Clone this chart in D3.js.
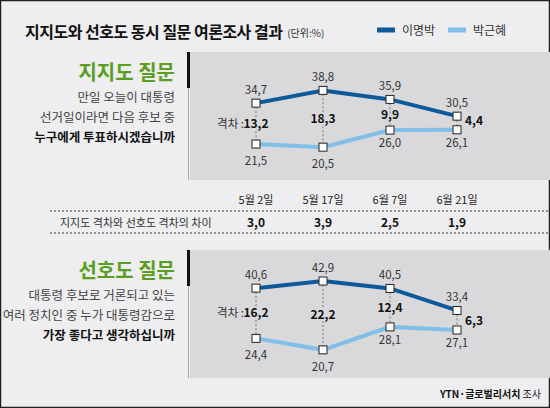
<!DOCTYPE html>
<html><head><meta charset="utf-8">
<script src="https://cdn.jsdelivr.net/npm/d3@7"></script>
<style>body{margin:0;background:#fff}text{font-family:"Noto Sans CJK KR","Noto Sans",sans-serif}</style>
</head><body><svg></svg>
<script>
let dates = ["5월 2일", "5월 17일", "6월 7일", "6월 21일"];
let supportLee = [34.7, 38.8, 35.9, 30.5];
let supportPark = [21.5, 20.5, 26.0, 26.1];
let supportGap = ["13.2", "18.3", "9.9", "4.4"];
let prefLee = [40.6, 42.9, 40.5, 33.4];
let prefPark = [24.4, 20.7, 28.1, 27.1];
let prefGap = ["16.2", "22.2", "12.4", "6.3"];
let gapDiff = ["3.0", "3.9", "2.5", "1.9"];
let fmt = v => v.toFixed(1).replace(".", ",");

let svg = d3.select("svg").attr("width", 550).attr("height", 408);
svg.append("rect").attr("x", 0.5).attr("y", 0.5).attr("width", 549).attr("height", 407)
    .attr("fill", "#eeeef0").attr("stroke", "#222").attr("stroke-width", 1.5);

let title = svg.append("text").attr("x", 25).attr("y", 38).attr("font-size", 16).attr("font-weight", "bold")
    .attr("fill", "#111").attr("letter-spacing", -0.5).text("지지도와 선호도 동시 질문 여론조사 결과");
let tw = title.node().getBBox().width;
svg.append("text").attr("x", 25 + tw + 4).attr("y", 37).attr("font-size", 10).attr("fill", "#333").text("(단위:%)");

// legend
[["이명박", "#0d5a9a", 377], ["박근혜", "#80c0e8", 448]].forEach(([n, c, x]) => {
    svg.append("line").attr("x1", x).attr("x2", x + 18).attr("y1", 30).attr("y2", 30)
        .attr("stroke", c).attr("stroke-width", 5);
    svg.append("text").attr("x", x + 25).attr("y", 35).attr("font-size", 12).attr("fill", "#333").text(n);
});

let xScale = d3.scalePoint().domain(dates).range([256, 457]);

function panel(top, title, lines, lee, park, gap, y0) {
    let g = svg.append("g");
    g.append("rect").attr("x", 190).attr("y", top).attr("width", 360).attr("height", 128).attr("fill", "#d9d9dc");
    g.append("rect").attr("x", 187).attr("y", top).attr("width", 3).attr("height", 36).attr("fill", "#111");
    g.append("rect").attr("x", 188).attr("y", top + 36).attr("width", 1).attr("height", 92).attr("fill", "#aaa");
    g.append("text").attr("x", 175).attr("y", top + 28).attr("text-anchor", "end").attr("font-size", 20)
        .attr("font-weight", "bold").attr("fill", "#5a9e1f").text(title);
    lines.forEach((l, i) => g.append("text").attr("x", 175).attr("y", top + 50 + i * 20)
        .attr("text-anchor", "end").attr("font-size", 12.5).attr("fill", i == 2 ? "#111" : "#444")
        .attr("font-weight", i == 2 ? "bold" : "normal").text(l));

    let y = d3.scaleLinear().domain([20, 45]).range([y0 - 20 * 3.1, y0 - 45 * 3.1]);
    dates.forEach((d, i) => g.append("line").attr("x1", xScale(d)).attr("x2", xScale(d))
        .attr("y1", y(lee[i])).attr("y2", y(park[i])).attr("stroke", "#777").attr("stroke-dasharray", "2,2"));
    let line = d3.line().x((v, i) => xScale(dates[i])).y(v => y(v));
    [[lee, "#0d5a9a"], [park, "#80c0e8"]].forEach(([vals, c]) => {
        g.append("path").attr("d", line(vals)).attr("fill", "none").attr("stroke", c).attr("stroke-width", 4);
        g.selectAll(null).data(vals).enter().append("rect")
            .attr("x", (v, i) => xScale(dates[i]) - 4).attr("y", v => y(v) - 4)
            .attr("width", 8).attr("height", 8).attr("fill", "#fff").attr("stroke", "#222").attr("stroke-width", 1);
    });
    lee.forEach((v, i) => g.append("text").attr("x", xScale(dates[i])).attr("y", y(v) - 9)
        .attr("text-anchor", "middle").attr("font-size", 11.5).attr("fill", "#333").text(fmt(v)));
    park.forEach((v, i) => g.append("text").attr("x", xScale(dates[i])).attr("y", y(v) + (i < 2 ? 21 : 17))
        .attr("text-anchor", "middle").attr("font-size", 11.5).attr("fill", "#333").text(fmt(v)));
    gap.forEach((v, i) => {
        let mid = (y(lee[i]) + y(park[i])) / 2 + 4;
        let last = i == 3;
        g.append("text").attr("x", xScale(dates[i]) + (last ? 17 : 0)).attr("y", last ? y(park[i]) - 5 : mid)
            .attr("text-anchor", "middle").attr("font-size", 12).attr("font-weight", "bold")
            .attr("fill", "#111").attr("stroke", "#d9d9dc").attr("stroke-width", 3).attr("paint-order", "stroke")
            .text(v.replace(".", ","));
    });
    g.append("text").attr("x", xScale(dates[0]) - 12).attr("y", (y(lee[0]) + y(park[0])) / 2 + 4)
        .attr("text-anchor", "end").attr("font-size", 11.5).attr("fill", "#333").text("격차 :");
}

panel(52, "지지도 질문", ["만일 오늘이 대통령", "선거일이라면 다음 후보 중", "누구에게 투표하시겠습니까"],
    supportLee, supportPark, supportGap, 210.7);
panel(250, "선호도 질문", ["대통령 후보로 거론되고 있는", "여러 정치인 중 누가 대통령감으로", "가장 좋다고 생각하십니까"],
    prefLee, prefPark, prefGap, 414);

// table
dates.forEach(d => svg.append("text").attr("x", xScale(d)).attr("y", 204).attr("text-anchor", "middle")
    .attr("font-size", 11).attr("fill", "#222").text(d));
[211, 233].forEach(yy => svg.append("line").attr("x1", 50).attr("x2", 550).attr("y1", yy).attr("y2", yy)
    .attr("stroke", "#333").attr("stroke-dasharray", "2,2"));
svg.append("text").attr("x", 60).attr("y", 227).attr("font-size", 11).attr("fill", "#333").text("지지도 격차와 선호도 격차의 차이");
gapDiff.forEach((v, i) => svg.append("text").attr("x", xScale(dates[i])).attr("y", 227).attr("text-anchor", "middle")
    .attr("font-size", 12).attr("font-weight", "bold").attr("fill", "#111").text(v.replace(".", ",")));

svg.append("text").attr("x", 541).attr("y", 398).attr("text-anchor", "end").attr("font-size", 10)
    .attr("fill", "#111").html('<tspan font-weight="bold">YTN·글로벌리서치</tspan> 조사');
</script></body></html>
